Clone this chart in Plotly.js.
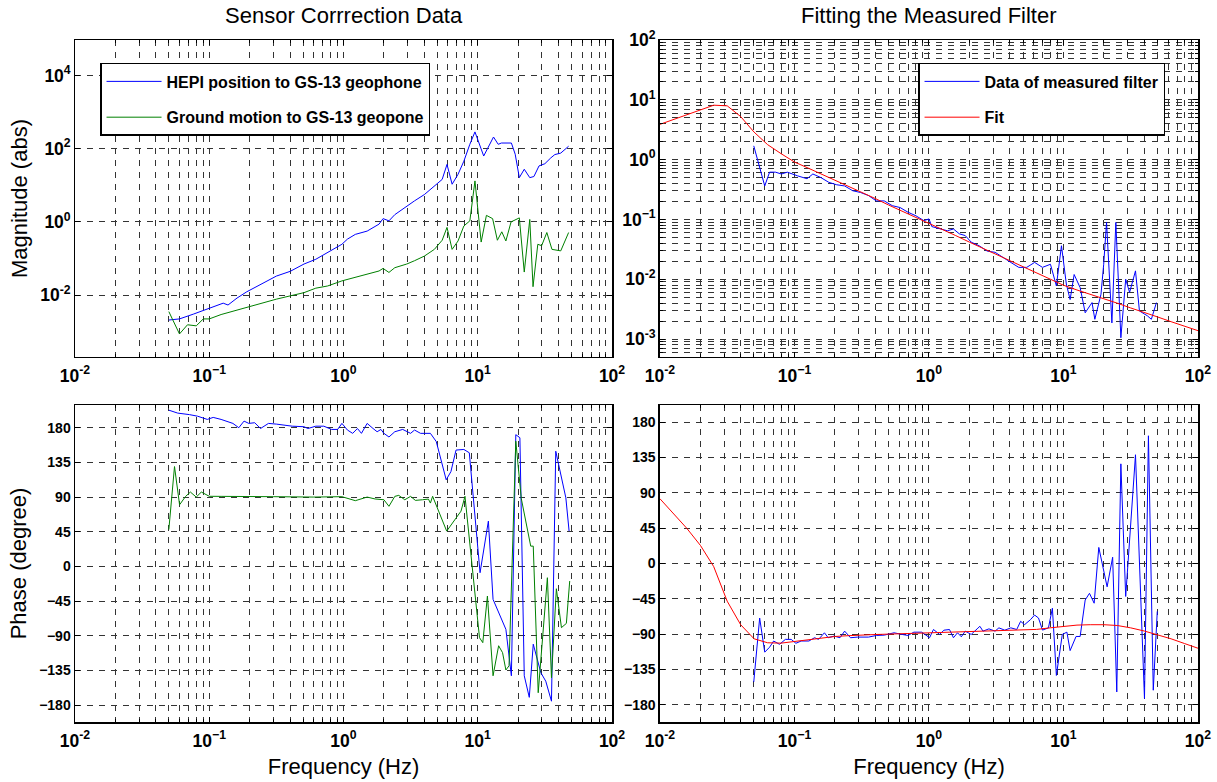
<!DOCTYPE html>
<html>
<head>
<meta charset="utf-8">
<script src="https://cdn.plot.ly/plotly-3.0.1.min.js"></script>
<style>
  html, body { margin: 0; padding: 0; background: #ffffff; }
  #chart { width: 1217px; height: 782px; }
</style>
</head>
<body>
<div id="chart"></div>
<script>
// ---- Sensor correction: magnitude ----
const freqHepiMag = [0.050, 0.060, 0.076, 0.098, 0.111, 0.127, 0.138, 0.161, 0.190, 0.225, 0.276, 0.316, 0.401, 0.508, 0.622, 0.762, 0.973, 1.07, 1.225, 1.50, 1.66, 1.84, 1.97, 2.18, 2.41, 2.96, 3.38, 4.01, 4.75, 5.43, 5.90, 6.44, 7.13, 7.88, 8.73, 9.53, 11.07, 12.25, 13.1, 14.2, 15.0, 17.8, 19.0, 20.4, 22.2, 24.4, 26.2, 28.6, 31.6, 35.0, 37.5, 41.5, 47.5];
const magHepi = [0.00209, 0.00224, 0.00302, 0.00417, 0.00513, 0.00603, 0.00537, 0.00832, 0.0123, 0.0174, 0.0257, 0.0331, 0.0447, 0.0708, 0.0955, 0.145, 0.245, 0.339, 0.457, 0.562, 0.708, 0.871, 1.23, 1.07, 1.58, 2.75, 3.76, 5.62, 9.55, 14.5, 37.2, 10.7, 20.0, 45.7, 132, 288, 63.1, 132, 209, 132, 143, 143, 70.8, 16.2, 27.5, 16.2, 17.4, 33.9, 38.9, 56.2, 69.2, 75.9, 117];

const freqGroundMag = [0.050, 0.060, 0.0689, 0.080, 0.0903, 0.100, 0.1225, 0.1606, 0.2254, 0.316, 0.401, 0.508, 0.622, 0.762, 0.973, 1.225, 1.50, 1.84, 1.97, 2.18, 2.41, 2.96, 3.38, 4.01, 4.75, 5.43, 5.90, 6.44, 7.13, 7.88, 8.73, 9.53, 10.6, 11.6, 12.9, 14.0, 15.1, 16.2, 17.7, 20.4, 22.2, 24.4, 25.8, 28.0, 29.9, 32.7, 35.7, 41.5, 47.5];
const magGround = [0.00355, 0.00087, 0.00155, 0.00145, 0.00224, 0.00224, 0.00295, 0.00389, 0.00562, 0.00776, 0.00955, 0.0117, 0.0155, 0.0178, 0.0245, 0.0302, 0.0372, 0.0457, 0.0537, 0.0417, 0.0562, 0.0708, 0.0871, 0.117, 0.178, 0.316, 0.708, 0.178, 0.302, 0.776, 1.07, 13.2, 0.282, 1.51, 1.23, 0.316, 0.537, 0.302, 1.0, 1.29, 0.0427, 1.17, 0.017, 0.245, 0.224, 0.513, 0.178, 0.162, 0.513];

// ---- Sensor correction: phase ----
const freqHepiPh = [0.050, 0.0582, 0.0713, 0.0818, 0.0967, 0.107, 0.1225, 0.140, 0.150, 0.166, 0.1816, 0.197, 0.218, 0.241, 0.276, 0.316, 0.415, 0.508, 0.543, 0.622, 0.713, 0.816, 0.904, 0.973, 1.07, 1.17, 1.27, 1.36, 1.50, 1.66, 1.78, 1.90, 2.0, 2.18, 2.41, 2.76, 3.16, 3.38, 3.75, 4.44, 4.91, 5.82, 6.31, 6.89, 7.88, 8.65, 10.4, 12.0, 13.0, 16.2, 17.8, 19.2, 20.6, 22.2, 24.2, 25.9, 29.5, 32.1, 35.4, 38.1, 45.3, 47.9];
const phaseHepi = [202.8, 199, 197, 195, 190.8, 193.4, 190.8, 187.8, 185.6, 180, 188.6, 185.6, 186.5, 179, 185.6, 184.7, 182, 181.3, 179, 182, 182, 177.8, 177.8, 185.6, 177, 172.7, 179, 172.7, 185.6, 179, 174.8, 177.8, 172.7, 168, 174.8, 177.8, 172.7, 177, 172.7, 172.7, 162, 112.4, 123, 151, 151.8, 147.5, -8.2, 58.8, -42.8, -81.7, -142, 171, 167, -142, -170, -101, -138, -149, -175, 149.5, 89, 45.8];

const freqGroundPh = [0.050, 0.0551, 0.0601, 0.0667, 0.0724, 0.0800, 0.0873, 0.100, 0.1225, 0.1606, 0.300, 0.600, 0.973, 1.225, 1.50, 1.72, 2.0, 2.18, 2.41, 2.58, 2.86, 3.16, 3.43, 3.88, 4.29, 4.44, 4.61, 5.87, 7.5, 8.03, 10.3, 10.9, 11.8, 13.0, 14.3, 15.3, 16.2, 17.1, 19.2, 21.1, 24.8, 25.9, 28.2, 33.0, 35.4, 38.5, 42.0, 45.7, 48.4];
const phaseGround = [47.8, 129.6, 80, 90.9, 96.5, 90, 96.5, 91, 90.9, 91, 90.5, 90, 90.5, 85.3, 90, 87.5, 86.5, 78, 90.9, 92.2, 86.5, 90.9, 85.7, 86.5, 87.4, 82.2, 91, 45.8, 71.7, 91, -92.5, -99, -38.5, -142, -103, -112, -134.5, -129, 162.5, 88, 26.3, 26.3, -164, -14.7, -144.5, -29, -79.5, -74, -19];

// ---- Measured filter and its fit: magnitude ----
const freqFilterMag = [0.0498, 0.0551, 0.0601, 0.0653, 0.0722, 0.080, 0.0885, 0.105, 0.124, 0.137, 0.157, 0.180, 0.206, 0.236, 0.271, 0.310, 0.355, 0.406, 0.465, 0.533, 0.61, 0.698, 0.80, 0.916, 1.0, 1.05, 1.20, 1.37, 1.52, 1.68, 1.86, 2.06, 2.36, 2.71, 3.10, 3.55, 4.06, 4.65, 5.33, 6.10, 6.98, 8.0, 8.85, 9.66, 10.5, 11.2, 12.0, 13.3, 14.5, 16.3, 17.1, 19.0, 19.9, 20.9, 22.9, 24.5, 26.7, 29.0, 31.0, 34.3, 36.7, 42.0, 45.0, 49.1];
const magFilter = [1.70, 0.741, 0.363, 0.617, 0.617, 0.575, 0.617, 0.537, 0.479, 0.575, 0.501, 0.417, 0.380, 0.363, 0.302, 0.282, 0.251, 0.204, 0.204, 0.170, 0.158, 0.132, 0.115, 0.0955, 0.102, 0.0759, 0.0692, 0.0646, 0.0692, 0.0575, 0.0537, 0.0417, 0.0363, 0.0295, 0.0282, 0.0229, 0.0191, 0.0158, 0.0158, 0.0191, 0.0158, 0.0178, 0.00776, 0.0363, 0.00832, 0.00457, 0.0120, 0.00724, 0.00275, 0.00407, 0.00214, 0.00562, 0.0178, 0.0891, 0.00186, 0.0891, 0.00105, 0.0100, 0.00603, 0.0138, 0.00295, 0.00245, 0.00214, 0.00407];

const freqFit = [0.01, 0.0126, 0.0158, 0.02, 0.0251, 0.0316, 0.0398, 0.0501, 0.0631, 0.0794, 0.1, 0.126, 0.158, 0.2, 0.251, 0.316, 0.398, 0.501, 0.631, 0.794, 1.0, 1.26, 1.58, 2.0, 2.51, 3.16, 3.98, 5.01, 6.31, 7.94, 10, 12.6, 15.8, 20, 25.1, 31.6, 39.8, 50.1, 63.1, 79.4, 100];
const magFit = [3.89, 4.68, 5.62, 6.76, 8.13, 7.94, 5.25, 2.88, 1.78, 1.26, 0.912, 0.724, 0.575, 0.457, 0.363, 0.282, 0.224, 0.174, 0.138, 0.107, 0.0851, 0.0676, 0.0537, 0.0417, 0.0331, 0.0263, 0.0204, 0.0162, 0.0129, 0.0100, 0.00794, 0.00661, 0.00562, 0.00468, 0.00398, 0.00331, 0.00282, 0.00234, 0.00195, 0.00166, 0.00138];
const phaseFit = [82.5, 64, 45, 23, -4, -48, -78, -96, -101, -101.5, -99.5, -97, -95, -93, -92, -91, -90.5, -90, -89.5, -89, -88.5, -88, -87.5, -87, -86.5, -86, -85.5, -85, -84, -82, -80, -78.5, -78, -78, -79, -82, -86, -91, -96, -102, -108];

// ---- Measured filter: phase ----
const freqFilterPh = [0.0498, 0.0551, 0.0601, 0.0653, 0.0700, 0.0774, 0.0856, 0.0946, 0.1025, 0.112, 0.128, 0.141, 0.151, 0.167, 0.178, 0.197, 0.218, 0.236, 0.261, 0.294, 0.355, 0.406, 0.465, 0.55, 0.63, 0.698, 0.772, 0.884, 1.01, 1.08, 1.20, 1.29, 1.42, 1.52, 1.63, 1.74, 1.86, 2.06, 2.28, 2.39, 2.52, 2.79, 3.10, 3.31, 3.66, 4.06, 4.49, 4.80, 5.14, 5.68, 6.10, 6.52, 6.98, 7.73, 8.27, 8.85, 9.80, 10.6, 11.2, 12.4, 13.3, 14.5, 15.6, 16.9, 18.3, 21.1, 23.2, 24.9, 26.7, 29.0, 34.3, 40.0, 42.8, 46.5, 49.8];
const phaseFilter = [-151, -69.5, -113, -106.7, -98.8, -103, -96.7, -96.7, -101.7, -98.8, -98.8, -94.6, -96.7, -88.3, -94.6, -92.5, -94.6, -86.2, -94.6, -93.8, -93.8, -91.7, -91.3, -88.3, -90.4, -91.7, -87.5, -87.5, -94.6, -84.1, -90.4, -85, -84.1, -94.6, -88.3, -93.4, -86.2, -90.4, -83.3, -80, -86.2, -83.3, -86.2, -82, -85, -82, -84.1, -73.7, -77.9, -71.6, -65.7, -69.5, -84.9, -82, -57, -142.7, -90.4, -87.5, -111, -93, -93, -46.5, -38, -50.6, 20.5, -29.7, 8, -163.7, 127, -42, 138.6, -172, 162.8, -161.5, -61];

// ---- Labels ----
const panelTitles = ['Sensor Corrrection Data', 'Fitting the Measured Filter'];
const seriesNames = ['HEPI position to GS-13 geophone', 'Ground motion to GS-13 geopone', 'Data of measured filter', 'Fit'];
const magTitle = 'Magnitude (abs)';
const phaseTitle = 'Phase (degree)';
const freqTitle = 'Frequency (Hz)';
const phaseTicks = [-180, -135, -90, -45, 0, 45, 90, 135, 180];

const FONT = 'Liberation Sans, Arial, Helvetica, sans-serif';
const GRID = '#333333';
const DASH = '6px,6px';
const TICKFONT = { family: FONT, size: 14, color: '#000', weight: 'bold' };
const TITLEFONT = { family: FONT, size: 22, color: '#000' };

// decade labels drawn as 10 with a superscript exponent
const decadeAlias = {
  '1': '10<sup>0</sup>',
  '10': '10<sup>1</sup>'
};
for (let p = 2; p <= 6; p++) {
  decadeAlias['10<sup>\u2212' + p + '</sup>'] = '10<sup>-' + p + '</sup>';
}

function frame(extra) {
  return Object.assign({
    showline: true, linecolor: '#000', linewidth: 1.5, mirror: 'allticks',
    ticks: 'inside', ticklen: 5, tickcolor: '#000', tickwidth: 1,
    showgrid: true, gridcolor: GRID, gridwidth: 1, griddash: DASH,
    zeroline: false, automargin: false,
    tickfont: TICKFONT
  }, extra);
}

const minorGrid = {
  dtick: 'D1', showgrid: true, gridcolor: GRID, gridwidth: 1, griddash: DASH,
  ticks: 'inside', ticklen: 3, tickcolor: '#000'
};

function logFreqAxis(domain, anchor, withTitle) {
  const ax = frame({
    type: 'log', range: [-2, 2], domain: domain, anchor: anchor,
    dtick: 1, exponentformat: 'power', labelalias: decadeAlias,
    ticklabelstandoff: 3,
    minor: minorGrid
  });
  if (withTitle) ax.title = { text: freqTitle, font: TITLEFONT, standoff: 9 };
  return ax;
}

const xL = [0, 0.4782];
const xR = [0.5209, 1];
const yTop = [0.5352, 1];
const yBot = [0, 0.4648];

const traces = [
  { x: freqHepiMag, y: magHepi, name: seriesNames[0], xaxis: 'x', yaxis: 'y',
    mode: 'lines', line: { color: '#0000ff', width: 1 }, legend: 'legend', legendgroup: 'a' },
  { x: freqGroundMag, y: magGround, name: seriesNames[1], xaxis: 'x', yaxis: 'y',
    mode: 'lines', line: { color: '#008000', width: 1 }, legend: 'legend', legendgroup: 'b' },
  { x: freqFilterMag, y: magFilter, name: seriesNames[2], xaxis: 'x2', yaxis: 'y2',
    mode: 'lines', line: { color: '#0000ff', width: 1 }, legend: 'legend2', legendgroup: 'c' },
  { x: freqFit, y: magFit, name: seriesNames[3], xaxis: 'x2', yaxis: 'y2',
    mode: 'lines', line: { color: '#ff0000', width: 1 }, legend: 'legend2', legendgroup: 'd' },
  { x: freqHepiPh, y: phaseHepi, name: seriesNames[0], xaxis: 'x3', yaxis: 'y3',
    mode: 'lines', line: { color: '#0000ff', width: 1 }, showlegend: false },
  { x: freqGroundPh, y: phaseGround, name: seriesNames[1], xaxis: 'x3', yaxis: 'y3',
    mode: 'lines', line: { color: '#008000', width: 1 }, showlegend: false },
  { x: freqFilterPh, y: phaseFilter, name: seriesNames[2], xaxis: 'x4', yaxis: 'y4',
    mode: 'lines', line: { color: '#0000ff', width: 1 }, showlegend: false },
  { x: freqFit, y: phaseFit, name: seriesNames[3], xaxis: 'x4', yaxis: 'y4',
    mode: 'lines', line: { color: '#ff0000', width: 1 }, showlegend: false }
];

const legendStyle = {
  bgcolor: '#ffffff', bordercolor: '#000', borderwidth: 1.5,
  font: { family: FONT, size: 16, color: '#000', weight: 'bold' },
  xanchor: 'left', yanchor: 'top', tracegroupgap: 12, traceorder: 'grouped',
  itemwidth: 55, itemclick: false, itemdoubleclick: false
};

const layout = {
  width: 1217, height: 782,
  margin: { l: 75, r: 19, t: 40, b: 60 },
  paper_bgcolor: '#ffffff', plot_bgcolor: '#ffffff',
  font: { family: FONT, color: '#000' },
  showlegend: true,
  legend: Object.assign({ x: 0.0223, y: 0.9663 }, legendStyle),
  legend2: Object.assign({ x: 0.7507, y: 0.9663 }, legendStyle),

  xaxis: logFreqAxis(xL, 'y', false),
  yaxis: frame({
    type: 'log', range: [-3.69, 4.97], domain: yTop, anchor: 'x',
    dtick: 2, tick0: 0, exponentformat: 'power', labelalias: decadeAlias,
    title: { text: magTitle, font: TITLEFONT, standoff: 6 }
  }),

  xaxis2: logFreqAxis(xR, 'y2', false),
  yaxis2: frame({
    type: 'log', range: [-3.3, 2], domain: yTop, anchor: 'x2',
    dtick: 1, exponentformat: 'power', labelalias: decadeAlias,
    minor: minorGrid
  }),

  xaxis3: logFreqAxis(xL, 'y3', true),
  yaxis3: frame({
    range: [-202, 209.5], domain: yBot, anchor: 'x3',
    tickmode: 'array', tickvals: phaseTicks,
    title: { text: phaseTitle, font: TITLEFONT, standoff: 6 }
  }),

  xaxis4: logFreqAxis(xR, 'y4', true),
  yaxis4: frame({
    range: [-202, 202], domain: yBot, anchor: 'x4',
    tickmode: 'array', tickvals: phaseTicks
  }),

  annotations: [
    { text: panelTitles[0], xref: 'paper', yref: 'paper', x: 0.2391, y: 1.0352,
      xanchor: 'center', yanchor: 'middle', showarrow: false, font: TITLEFONT },
    { text: panelTitles[1], xref: 'paper', yref: 'paper', x: 0.7605, y: 1.0352,
      xanchor: 'center', yanchor: 'middle', showarrow: false, font: TITLEFONT }
  ]
};

Plotly.newPlot('chart', traces, layout, { staticPlot: true, displayModeBar: false });
</script>
</body>
</html>
